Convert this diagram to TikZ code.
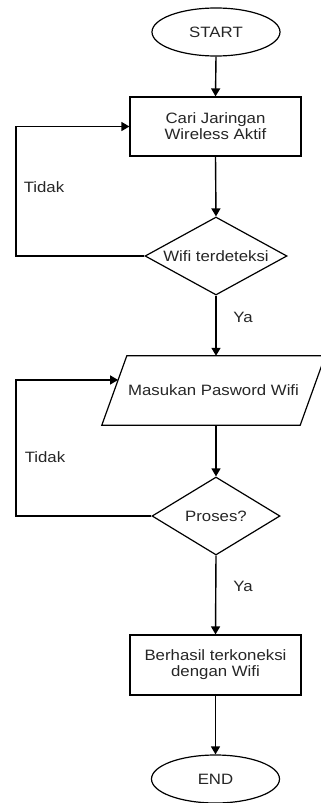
\documentclass[tikz,border=0pt]{standalone}
\usepackage{fontspec}
\setmainfont{Liberation Sans}[FakeStretch=1.12]
\usetikzlibrary{shapes.geometric,arrows.meta,calc}
\begin{document}
\begin{tikzpicture}[x=1pt,y=-1pt,
 every node/.style={font=\fontsize{15}{16}\selectfont, text=black!85},
 line/.style={line width=1.4pt, draw=black},
 arr/.style={line, -{Triangle[width=9pt,length=8pt]}},
 term/.style={ellipse, draw, line width=1.2pt, minimum width=128pt, minimum height=48pt, inner sep=0pt},
 proc/.style={rectangle, draw, line width=1.2pt, minimum width=171pt, minimum height=59pt, align=center, inner sep=0pt},
 dec/.style={diamond, draw, line width=1.2pt, inner sep=0pt, aspect=1.8},
 lbl/.style={inner sep=0pt}]
\useasboundingbox (0,0) rectangle (321,803);
\fill[white] (0,0) rectangle (321,803);
\node[term] (start) at (216,32) {START};
\node[proc] (r1) at (215.5,126.5) {Cari Jaringan\\Wireless Aktif};
\node[dec, minimum width=142pt, minimum height=78pt] (d1) at (216,256) {Wifi terdeteksi};
\node[minimum width=223pt, minimum height=69pt, inner sep=0pt] (p) at (213.5,390.5) {Masukan Pasword Wifi};
\draw[line width=1.2pt] ([xshift=25pt]p.north west) -- (p.north east) -- ([xshift=-25pt]p.south east) -- (p.south west) -- cycle;
\coordinate (pin) at ($(p.south west)!0.652!([xshift=25pt]p.north west)$);
\node[dec, minimum width=128pt, minimum height=78pt] (d2) at (216,516) {Proses?};
\node[proc, minimum height=60pt] (r2) at (215.5,665) {Berhasil terkoneksi\\dengan Wifi};
\node[term] (end) at (215.5,779) {END};
\coordinate (lx) at (16,0);
\draw[arr] (start.south) -- (r1.north);
\draw[arr] (r1.south) -- (d1.north);
\draw[arr] (d1.south) -- (d1.south |- p.north);
\draw[arr] (d2.north |- p.south) -- (d2.north);
\draw[arr] (d2.south) -- (r2.north);
\draw[arr] (r2.south) -- (end.north);
\draw[arr] (d1.west) -- (d1.west -| lx) |- (r1.west);
\draw[arr] (d2.west) -- (d2.west -| lx) |- (pin);
\node[lbl] (t1) at (44,187) {Tidak};
\node[lbl] (t2) at (45,457) {Tidak};
\node[lbl] (y1) at (243,317) {Ya};
\node[lbl] (y2) at (243,586) {Ya};
\end{tikzpicture}
\end{document}
